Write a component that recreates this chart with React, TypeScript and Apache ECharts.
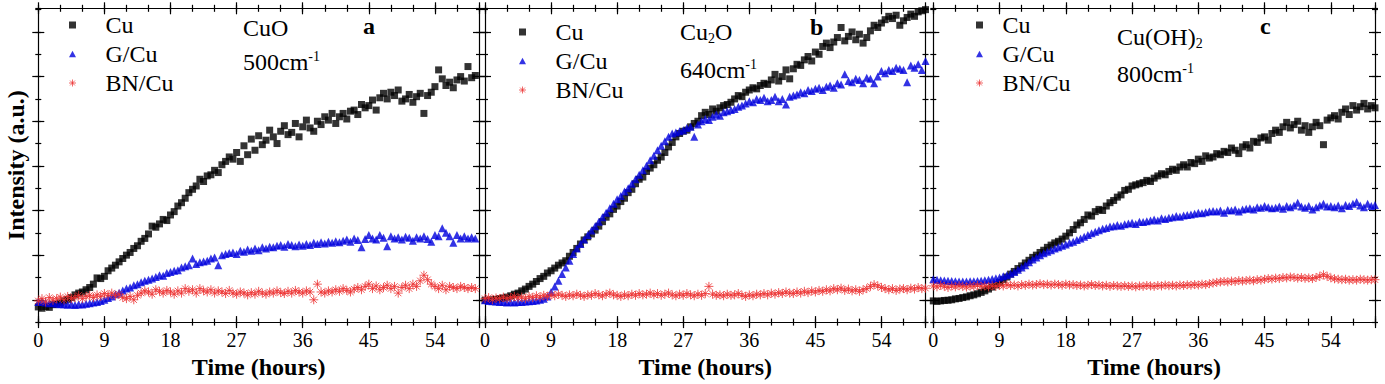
import React, { useEffect, useRef } from 'react';
import * as echarts from 'echarts';

// sampling step of the time series (hours)
const STEP = 0.5;
const SERIES_NAMES = ['Cu', 'G/Cu', 'BN/Cu'];
const X_TICK_INTERVAL = 9;
const X_MINOR_INTERVAL = 3;
const X_MAX = 60;
const Y_MAX = 14.06;

// Panel a (CuO, 500 cm-1)
const aCu = [0.68,0.62,0.7,0.66,0.78,0.8,0.86,0.95,1.02,1.1,1.22,1.3,1.35,1.45,1.55,1.7,1.98,1.95,2.05,2.3,2.42,2.55,2.7,2.85,3.0,3.12,3.3,3.42,3.62,3.75,3.95,4.3,4.25,4.4,4.6,4.55,4.8,4.95,5.2,5.35,5.55,5.8,5.95,6.1,6.4,6.3,6.55,6.6,6.8,6.7,7.05,7.2,7.4,7.3,7.6,7.2,7.9,7.5,8.2,7.7,8.35,7.95,8.15,8.6,8.3,8.0,8.55,8.8,8.4,8.5,8.9,8.3,8.75,9.05,8.7,8.55,9.0,8.85,9.2,9.05,9.35,8.9,9.2,9.35,9.1,9.45,9.5,9.3,9.75,9.6,9.7,9.95,9.5,10.05,10.25,10.0,10.3,10.15,10.4,9.9,10.0,10.2,9.85,10.1,10.25,9.35,10.15,10.3,10.55,11.3,10.9,10.6,10.75,10.5,10.85,11.0,10.8,11.45,10.95,11.05];
const aG = [0.9,0.92,0.88,0.85,0.86,0.82,0.8,0.8,0.78,0.8,0.77,0.8,0.79,0.82,0.84,0.88,0.9,0.95,1.0,1.08,1.15,1.25,1.32,1.42,1.5,1.55,1.65,1.7,1.78,1.85,1.9,1.95,2.02,2.1,2.08,2.2,2.25,2.3,2.32,2.45,2.5,2.55,2.85,2.6,2.68,2.72,2.75,2.85,2.9,2.55,3.0,3.05,3.1,3.12,3.05,3.2,3.15,3.25,3.2,3.3,3.22,3.35,3.3,3.38,3.35,3.42,3.45,3.38,3.5,3.45,3.4,3.48,3.42,3.5,3.45,3.55,3.5,3.58,3.52,3.6,3.55,3.62,3.58,3.65,3.7,3.6,3.75,3.68,3.35,3.72,3.9,3.75,3.7,3.9,3.78,3.4,3.85,3.75,3.8,3.7,3.82,3.78,3.65,3.8,3.75,3.85,3.72,3.6,3.9,3.85,4.2,4.0,3.85,3.55,3.9,3.75,3.85,3.75,3.8,3.75];
const aBN = [0.95,1.05,0.9,1.1,0.98,1.05,1.12,1.0,1.15,1.05,1.1,1.2,1.05,1.15,1.2,1.1,1.22,1.15,1.28,1.2,1.3,1.18,1.25,1.1,1.05,1.15,1.0,1.2,1.3,1.4,1.35,1.25,1.45,1.38,1.3,1.42,1.35,1.25,1.4,1.3,1.5,1.38,1.45,1.3,1.5,1.4,1.35,1.45,1.3,1.4,1.35,1.28,1.42,1.3,1.25,1.35,1.3,1.22,1.32,1.25,1.38,1.3,1.25,1.35,1.3,1.4,1.32,1.28,1.38,1.3,1.42,1.35,1.3,1.4,1.35,1.0,1.7,1.35,1.3,1.4,1.35,1.45,1.38,1.5,1.42,1.35,1.48,1.55,1.45,1.6,1.7,1.5,1.62,1.45,1.55,1.65,1.5,1.6,1.3,1.55,1.65,1.5,1.7,1.6,1.85,2.1,1.9,1.7,1.6,1.5,1.65,1.45,1.6,1.55,1.5,1.6,1.55,1.5,1.55,1.5];

// Panel b (Cu2O, 640 cm-1)
const bCu = [0.98,0.97,1.0,1.02,1.05,1.08,1.12,1.18,1.25,1.3,1.4,1.48,1.6,1.7,1.82,1.95,2.05,2.2,2.3,2.42,2.55,2.65,2.75,2.95,3.12,3.3,3.5,3.68,3.82,3.95,4.12,4.3,4.5,4.7,4.85,5.05,5.2,5.4,5.55,5.8,5.95,6.2,6.4,6.5,6.75,6.9,7.05,7.25,7.4,7.6,7.85,8.05,8.3,8.45,8.55,8.6,8.75,8.9,9.0,9.25,9.4,9.3,9.55,9.45,9.6,9.7,9.75,9.85,10.0,10.15,10.1,10.3,10.4,10.5,10.45,10.6,10.7,10.65,10.85,11.1,10.8,11.0,11.3,10.9,11.35,11.55,11.5,11.75,11.9,11.7,12.1,12.0,12.35,12.5,12.3,12.55,12.75,13.2,12.6,12.8,13.0,12.65,12.9,12.5,12.75,13.05,13.3,13.2,13.4,13.55,13.7,13.6,13.75,13.3,13.5,13.65,13.8,13.7,13.9,13.95,14.0];
const bG = [0.98,0.95,0.93,0.92,0.9,0.9,0.88,0.9,0.88,0.9,0.9,0.92,0.93,0.95,0.97,1.0,1.05,1.15,1.35,1.6,1.85,2.15,2.45,2.75,3.05,3.3,3.5,3.7,3.9,4.1,4.3,4.5,4.7,4.9,5.1,5.3,5.5,5.65,5.85,6.0,6.2,6.4,6.6,6.8,7.0,7.25,7.45,7.7,7.9,8.1,8.3,8.45,8.5,8.55,8.6,8.7,8.75,8.3,8.85,9.0,9.1,9.05,9.2,9.3,9.25,9.4,9.45,9.5,9.55,9.65,9.7,9.8,9.9,9.85,10.0,9.95,10.05,9.9,9.95,10.1,9.9,10.0,9.75,10.1,10.15,10.2,10.3,10.25,10.4,10.35,10.45,10.5,10.4,10.55,10.6,10.5,10.7,10.65,11.1,10.8,10.75,10.9,10.85,10.7,10.95,10.9,10.7,11.0,11.25,11.15,11.3,11.25,11.4,11.35,11.3,10.75,11.5,11.4,11.55,11.3,11.7];
const bBN = [1.05,1.1,1.0,1.08,1.05,1.12,1.05,1.1,1.15,1.08,1.12,1.05,1.15,1.1,1.18,1.12,1.2,1.15,1.22,1.18,1.25,1.2,1.15,1.22,1.18,1.25,1.2,1.15,1.22,1.2,1.28,1.22,1.18,1.25,1.3,1.22,1.2,1.15,1.22,1.18,1.25,1.2,1.28,1.22,1.25,1.3,1.22,1.28,1.2,1.25,1.3,1.22,1.18,1.25,1.2,1.28,1.22,1.18,1.25,1.2,1.28,1.6,1.25,1.2,1.22,1.18,1.25,1.2,1.22,1.28,1.2,1.15,1.22,1.18,1.25,1.22,1.28,1.22,1.3,1.25,1.32,1.28,1.35,1.3,1.28,1.35,1.3,1.38,1.32,1.4,1.35,1.42,1.38,1.45,1.4,1.5,1.45,1.52,1.42,1.48,1.4,1.45,1.38,1.45,1.5,1.6,1.68,1.62,1.55,1.5,1.45,1.5,1.42,1.48,1.5,1.45,1.52,1.48,1.55,1.5,1.52];

// Panel c (Cu(OH)2, 800 cm-1)
const cCu = [0.95,0.93,0.95,0.97,0.98,1.0,1.04,1.06,1.1,1.13,1.18,1.22,1.27,1.33,1.4,1.48,1.57,1.67,1.78,1.9,2.02,2.15,2.27,2.4,2.52,2.65,2.77,2.9,3.0,3.12,3.22,3.35,3.45,3.55,3.62,3.72,3.85,4.0,4.15,4.35,4.45,4.6,4.8,4.75,4.95,5.05,5.0,5.2,5.35,5.45,5.6,5.7,5.9,5.95,6.1,6.15,6.2,6.25,6.35,6.3,6.45,6.55,6.65,6.6,6.75,6.85,6.8,6.95,7.05,6.95,7.15,7.1,7.3,7.2,7.45,7.35,7.4,7.55,7.5,7.65,7.6,7.8,7.7,7.55,7.85,7.95,7.8,8.1,8.05,8.25,8.3,8.15,8.45,8.6,8.5,8.75,8.95,8.7,8.85,9.0,8.6,8.8,8.5,8.75,8.95,8.8,7.95,9.05,9.15,9.25,9.1,9.4,9.55,9.3,9.7,9.5,9.65,9.8,9.55,9.7,9.6];
const cG = [1.92,1.9,1.88,1.86,1.85,1.84,1.83,1.82,1.82,1.82,1.83,1.83,1.84,1.85,1.87,1.9,1.93,1.96,2.0,2.05,2.1,2.17,2.25,2.35,2.45,2.55,2.68,2.8,2.9,3.0,3.08,3.15,3.22,3.3,3.35,3.42,3.48,3.55,3.6,3.68,3.75,3.82,3.9,3.98,4.05,4.12,4.18,4.22,4.28,4.3,4.35,4.32,4.38,4.42,4.45,4.4,4.5,4.48,4.52,4.55,4.6,4.55,4.65,4.62,4.68,4.7,4.75,4.72,4.78,4.8,4.82,4.85,4.9,4.88,4.92,4.95,4.98,4.95,5.0,4.9,5.02,5.0,5.05,4.95,5.05,5.08,5.1,5.05,5.15,5.12,5.2,5.15,5.1,5.12,5.18,5.08,5.2,5.15,5.22,5.35,5.18,5.12,5.2,5.05,5.15,5.22,5.3,5.18,5.2,5.15,5.22,5.1,5.25,5.2,5.3,5.38,5.22,5.15,5.3,5.2,5.25];
const cBN = [1.62,1.58,1.65,1.6,1.55,1.62,1.58,1.63,1.6,1.57,1.62,1.6,1.65,1.6,1.62,1.58,1.63,1.6,1.65,1.62,1.68,1.64,1.66,1.62,1.68,1.65,1.7,1.66,1.68,1.72,1.68,1.7,1.66,1.7,1.68,1.65,1.7,1.66,1.68,1.64,1.66,1.62,1.65,1.68,1.64,1.66,1.62,1.65,1.6,1.64,1.62,1.6,1.63,1.6,1.62,1.58,1.62,1.6,1.64,1.62,1.6,1.64,1.62,1.66,1.63,1.65,1.62,1.66,1.64,1.67,1.65,1.68,1.66,1.7,1.68,1.72,1.75,1.78,1.8,1.82,1.8,1.84,1.82,1.86,1.84,1.86,1.88,1.85,1.9,1.88,1.92,1.95,1.93,1.97,1.95,2.0,1.98,2.02,2.0,1.97,2.0,1.96,1.98,1.95,2.0,2.05,2.12,2.05,1.98,1.94,1.92,1.9,1.92,1.88,1.9,1.88,1.92,1.9,1.88,1.9,1.9];

const FONT = "'Liberation Serif', 'Times New Roman', serif";
const BLACK = '#000000';
const BLUE = '#0000dd';
const RED = '#ec2f2f';
const SQUARE = 'path://M0,0L10,0L10,10L0,10Z';
const TRIANGLE = 'path://M5,0L10,9L0,9Z';
const STAR = 'path://M0,5L10,5M5,0L5,10M1.5,1.5L8.5,8.5M8.5,1.5L1.5,8.5';

const PLOT_TOP = 8.3;
const PLOT_BOTTOM = 322.3;
const PLOT_H = PLOT_BOTTOM - PLOT_TOP;
const LEGEND_ICON = 7;

const PANELS = [
  { left: 38.3, width: 440.7, data: [aCu, aG, aBN], iconX: 70, textX: 103, legendTop: 13 },
  { left: 485, width: 440.5, data: [bCu, bG, bBN], iconX: 520, textX: 553, legendTop: 20 },
  { left: 933.3, width: 441.7, data: [cCu, cG, cBN], iconX: 977, textX: 1000, legendTop: 13 },
];

function buildOption() {
  const unit = PLOT_H / Y_MAX;
  const grid: any[] = [];
  const xAxis: any[] = [];
  const yAxis: any[] = [];
  const series: any[] = [];
  const legend: any[] = [];
  const lineStyle = { color: BLACK, width: 1.2 };

  PANELS.forEach((p, pi) => {
    const gMain = grid.length;
    grid.push({ left: p.left, width: p.width, top: PLOT_TOP, height: PLOT_H, containLabel: false });
    const gMajor = grid.length;
    grid.push({ left: p.left, width: p.width, top: PLOT_BOTTOM - 13 * unit, height: 12 * unit, containLabel: false });

    const baseX = { type: 'value', gridIndex: gMain, min: 0, max: X_MAX, splitLine: { show: false } };
    const dataX = xAxis.length;
    xAxis.push({
      ...baseX, position: 'bottom', interval: X_TICK_INTERVAL,
      axisLine: { show: true, onZero: false, lineStyle },
      axisTick: { show: false },
      axisLabel: { show: true, fontSize: 20, fontFamily: FONT, color: BLACK, margin: 8, showMaxLabel: false },
      name: 'Time (hours)', nameLocation: 'middle', nameGap: 32,
      nameTextStyle: { fontSize: 24, fontWeight: 'bold', fontFamily: FONT, color: BLACK },
    });
    xAxis.push({ ...baseX, position: 'top', interval: X_TICK_INTERVAL, axisLine: { show: true, onZero: false, lineStyle }, axisTick: { show: false }, axisLabel: { show: false } });
    const tickSpecs = [
      { pos: 'bottom', off: -6, len: 12, iv: X_TICK_INTERVAL },
      { pos: 'bottom', off: -3.5, len: 7, iv: X_MINOR_INTERVAL },
      { pos: 'top', off: -6, len: 12, iv: X_TICK_INTERVAL },
      { pos: 'top', off: -3.5, len: 7, iv: X_MINOR_INTERVAL },
    ];
    tickSpecs.forEach((t) => {
      xAxis.push({
        ...baseX, position: t.pos, offset: t.off, interval: t.iv,
        axisLine: { show: false, onZero: false },
        axisTick: { show: true, inside: false, length: t.len, lineStyle },
        axisLabel: { show: false },
      });
    });
    xAxis.push({ type: 'value', gridIndex: gMajor, min: 0, max: X_MAX, show: false });

    const baseY = { type: 'value', gridIndex: gMain, min: 0, max: Y_MAX, splitLine: { show: false } };
    const dataY = yAxis.length;
    yAxis.push({
      ...baseY, position: 'left',
      axisLine: { show: true, onZero: false, lineStyle },
      axisTick: { show: false }, axisLabel: { show: false },
      ...(pi === 0 ? {
        name: 'Intensity (a.u.)', nameLocation: 'middle', nameGap: 10,
        nameTextStyle: { fontSize: 24, fontWeight: 'bold', fontFamily: FONT, color: BLACK },
      } : {}),
    });
    yAxis.push({ ...baseY, position: 'right', axisLine: { show: true, onZero: false, lineStyle }, axisTick: { show: false }, axisLabel: { show: false } });
    ['left', 'right'].forEach((pos) => {
      yAxis.push({
        ...baseY, position: pos, offset: -3, interval: 1,
        axisLine: { show: false, onZero: false },
        axisTick: { show: true, inside: false, length: 6, lineStyle },
        axisLabel: { show: false },
      });
    });
    ['left', 'right'].forEach((pos) => {
      yAxis.push({
        type: 'value', gridIndex: gMajor, min: 0, max: 12, interval: 2, position: pos, offset: -6,
        splitLine: { show: false },
        axisLine: { show: false, onZero: false },
        axisTick: { show: true, inside: false, length: 12, lineStyle },
        axisLabel: { show: false },
      });
    });

    const styles = [
      { symbol: SQUARE, symbolSize: 7, itemStyle: { color: BLACK } },
      { symbol: TRIANGLE, symbolSize: 8, itemStyle: { color: BLUE } },
      { symbol: STAR, symbolSize: 9, itemStyle: { color: 'none', borderColor: RED, borderWidth: 1 } },
    ];
    p.data.forEach((vals, si) => {
      series.push({
        type: 'scatter', name: SERIES_NAMES[si], xAxisIndex: dataX, yAxisIndex: dataY,
        symbol: styles[si].symbol, symbolSize: styles[si].symbolSize, itemStyle: styles[si].itemStyle,
        data: vals.map((v, i) => [i * STEP, v]),
        silent: true,
      });
    });

    const legendLeft = p.iconX - LEGEND_ICON / 2;
    legend.push({
      orient: 'vertical', left: legendLeft, top: p.legendTop, padding: 0,
      itemWidth: LEGEND_ICON, itemHeight: LEGEND_ICON, itemGap: 5, selectedMode: false, symbolKeepAspect: true,
      textStyle: {
        fontSize: 24, fontFamily: FONT, color: BLACK, lineHeight: 24,
        padding: [0, 0, 0, p.textX - (legendLeft + LEGEND_ICON + 5)],
      },
      data: [
        { name: 'Cu', icon: SQUARE, itemStyle: { color: BLACK } },
        { name: 'G/Cu', icon: TRIANGLE, itemStyle: { color: BLUE } },
        { name: 'BN/Cu', icon: STAR, itemStyle: { color: 'none', borderColor: RED, borderWidth: 0.9 } },
      ],
    });
  });

  const rich = {
    n: { fontSize: 24, fontFamily: FONT, fill: BLACK, lineHeight: 26 },
    sup: { fontSize: 14, fontFamily: FONT, fill: BLACK, verticalAlign: 'top', lineHeight: 14 },
    sub: { fontSize: 14, fontFamily: FONT, fill: BLACK, verticalAlign: 'bottom', lineHeight: 14, padding: [6, 0, 0, 0] },
  };
  const txt = (x: number, y: number, text: string, bold = false) => ({
    type: 'text', x, y, silent: true,
    style: { text, fontSize: 24, fontFamily: FONT, fontWeight: bold ? 'bold' : 'normal', fill: BLACK, verticalAlign: 'middle', rich },
  });
  const graphic = [
    txt(243, 28, '{n|CuO}'),
    txt(243, 62, '{n|500cm}{sup|-1}'),
    txt(363, 26, 'a', true),
    txt(680, 32, '{n|Cu}{sub|2}{n|O}'),
    txt(680, 70, '{n|640cm}{sup|-1}'),
    txt(810, 27, 'b', true),
    txt(1117, 37, '{n|Cu(OH)}{sub|2}'),
    txt(1117, 74, '{n|800cm}{sup|-1}'),
    txt(1260, 26, 'c', true),
  ];

  return { animation: false, backgroundColor: '#ffffff', grid, xAxis, yAxis, series, legend, graphic };
}

export default function App() {
  const ref = useRef<HTMLDivElement>(null);
  useEffect(() => {
    if (!ref.current) return;
    const chart = echarts.init(ref.current, undefined, { renderer: 'svg' });
    chart.setOption(buildOption() as any);
    return () => chart.dispose();
  }, []);
  return <div ref={ref} style={{ position: 'fixed', left: 0, top: 0, width: 1385, height: 384, background: '#fff' }} />;
}
